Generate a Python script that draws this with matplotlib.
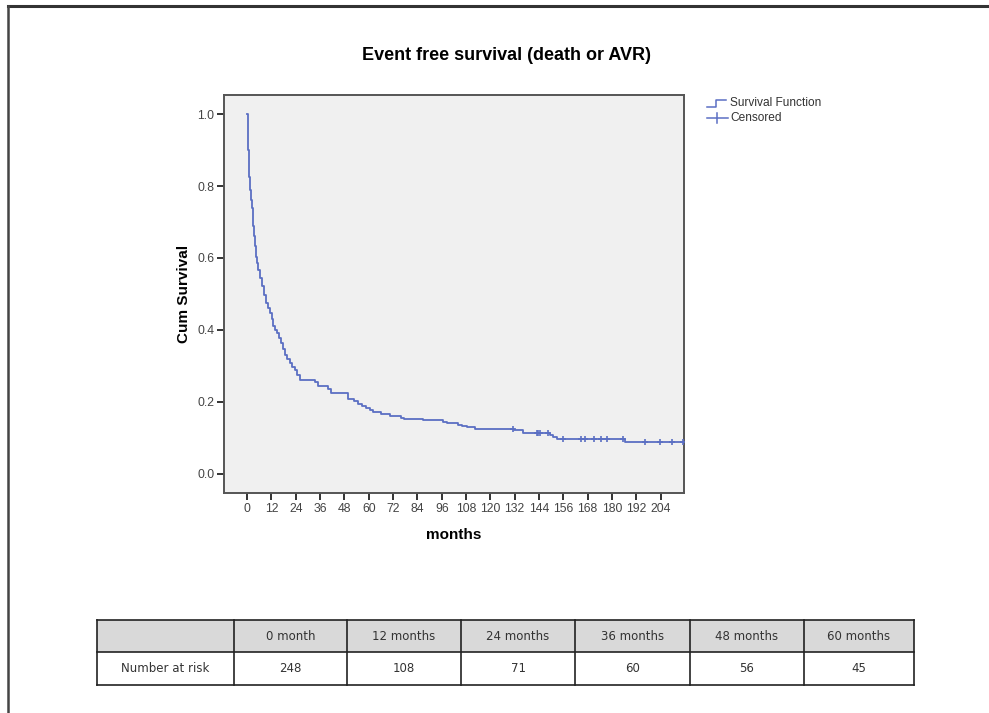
import numpy as np
import matplotlib
matplotlib.use("Agg")
import matplotlib.pyplot as plt
from matplotlib.lines import Line2D
import matplotlib.patches as patches

plt.rcParams['font.family'] = ['Liberation Sans', 'DejaVu Sans']

# Courbe de survie : instants de saut et survie après le saut
step_times = [0, 0.3, 0.6, 1.0, 1.4, 1.7, 2.2, 2.7, 3.1, 3.6, 4.1, 4.6, 5.1, 5.6,
              6.4, 7.3, 8.2, 9.2, 10.3, 11.5, 12.2, 12.8, 13.6, 14.5, 15.5, 16.5,
              17.5, 18.6, 19.8, 21.1, 22.3, 23.5, 24.7, 26.0, 33.4, 35.0, 40.0,
              41.2, 50.0, 52.5, 54.5, 56.5, 58.5, 60.5, 62.0, 66.0, 70.5, 76.0,
              77.5, 87.0, 96.7, 98.5, 104.0, 106.0, 108.3, 112.4, 131.5, 136.0,
              149.5, 151.0, 153.0, 186.5]
step_surv = [1.0, 0.95, 0.90, 0.826, 0.79, 0.761, 0.738, 0.715, 0.688, 0.66,
             0.632, 0.604, 0.585, 0.567, 0.544, 0.521, 0.498, 0.475, 0.461,
             0.447, 0.43, 0.41, 0.40, 0.391, 0.377, 0.364, 0.348, 0.331, 0.32,
             0.308, 0.298, 0.289, 0.276, 0.262, 0.254, 0.245, 0.237, 0.226,
             0.209, 0.202, 0.195, 0.190, 0.184, 0.178, 0.172, 0.167, 0.162,
             0.156, 0.153, 0.149, 0.145, 0.1415, 0.137, 0.133, 0.129, 0.125,
             0.121, 0.114, 0.108, 0.103, 0.097, 0.088]
end_time = 215.0
censor_times = [131.3, 142.8, 143.5, 144.4, 148.5, 156.0, 164.5, 166.6, 171.0,
                174.4, 177.7, 185.5, 196.3, 203.7, 209.4, 215.0]

# Tableau des effectifs à risque
risk_headers = ["0 month", "12 months", "24 months", "36 months", "48 months", "60 months"]
risk_values = [248, 108, 71, 60, 56, 45]

W, H = 989, 713
blue = '#5b6fc3'
fig = plt.figure(figsize=(W / 100, H / 100), dpi=100)
fig.patch.set_facecolor('white')

# Cadre de page (haut et gauche)
fig.add_artist(Line2D([8 / W, 1], [1 - 6 / H, 1 - 6 / H], color='#333333', lw=2.2))
fig.add_artist(Line2D([8 / W, 8 / W], [0, 1 - 6 / H], color='#444444', lw=1.8))

ax = fig.add_axes([224 / W, 1 - 493.3 / H, 460 / W, 398.3 / H])
ax.set_facecolor('#f0f0f0')

t = list(step_times) + [end_time]
s = list(step_surv) + [step_surv[-1]]
ax.step(t, s, where='post', color=blue, lw=1.3, zorder=3)

idx = np.searchsorted(step_times, censor_times, side='right') - 1
cens_y = [step_surv[i] for i in idx]
ax.plot(censor_times, cens_y, linestyle='none', marker='+', ms=5, mew=1.2,
        color=blue, zorder=4)

ax.set_xlim(-11.4, 215.5)
ax.set_ylim(-0.054, 1.053)
ax.set_xticks(np.arange(0, 205, 12))
ax.set_yticks([0.0, 0.2, 0.4, 0.6, 0.8, 1.0])
ax.set_yticklabels([f"{v:.1f}" for v in [0.0, 0.2, 0.4, 0.6, 0.8, 1.0]])
for sp in ax.spines.values():
    sp.set_color('#555555')
    sp.set_linewidth(1.4)
ax.tick_params(axis='both', direction='out', length=5, width=1.4, color='#333333',
               labelsize=8.8, labelcolor='#444444', pad=2)

ax.set_xlabel("months", fontsize=11, fontweight='bold')
ax.set_ylabel("Cum Survival", fontsize=11, fontweight='bold')
ax.xaxis.set_label_coords(0.5, -0.088)
ax.yaxis.set_label_coords(-0.072, 0.5)
fig.text(506 / W, 1 - 55 / H, "Event free survival (death or AVR)", ha='center',
         va='center', fontsize=13, fontweight='bold')

# Légende
y1, y2 = 1 - 103 / H, 1 - 118 / H
fig.add_artist(Line2D(np.array([707, 716, 716, 726]) / W,
                      [y1 - 4 / H, y1 - 4 / H, y1 + 3 / H, y1 + 3 / H], color=blue, lw=1.1))
fig.add_artist(Line2D([707 / W, 728 / W], [y2, y2], color=blue, lw=1.1))
fig.add_artist(Line2D([717 / W, 717 / W], [y2 - 5 / H, y2 + 5 / H], color=blue, lw=1.1))
fig.text(730 / W, y1, "Survival Function", fontsize=8.6, va='center', color='#333333')
fig.text(730 / W, y2, "Censored", fontsize=8.6, va='center', color='#333333')

# Tableau
tab = fig.add_axes([0, 0, 1, 1], facecolor='none')
tab.set_xlim(0, W)
tab.set_ylim(H, 0)
tab.axis('off')
col_x = [97, 234, 347, 461, 575, 690, 804, 914]
row_y = [620, 652, 685]
tab.add_patch(patches.Rectangle((col_x[0], row_y[0]), col_x[-1] - col_x[0],
                                row_y[1] - row_y[0], facecolor='#d9d9d9', edgecolor='none'))
for x in col_x:
    tab.plot([x, x], [row_y[0], row_y[-1]], color='#222222', lw=1.2)
for y in row_y:
    tab.plot([col_x[0], col_x[-1]], [y, y], color='#222222', lw=1.2)
tf = dict(ha='center', va='center', fontsize=8.5, color='#333333', family='DejaVu Sans')
for i, (hd, v) in enumerate(zip(risk_headers, risk_values)):
    cx = (col_x[i + 1] + col_x[i + 2]) / 2
    tab.text(cx, (row_y[0] + row_y[1]) / 2, hd, **tf)
    tab.text(cx, (row_y[1] + row_y[2]) / 2, str(v), **tf)
tab.text((col_x[0] + col_x[1]) / 2, (row_y[1] + row_y[2]) / 2, "Number at risk", **tf)

fig.savefig("out.png", dpi=100)
